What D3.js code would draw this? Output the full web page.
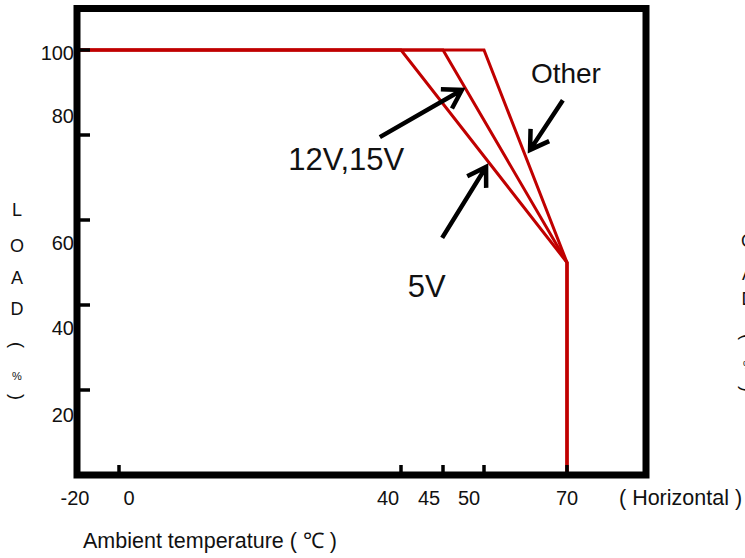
<!DOCTYPE html>
<html>
<head>
<meta charset="utf-8">
<script src="https://cdn.jsdelivr.net/npm/d3@7"></script>
<style>
  html, body { margin: 0; padding: 0; background: #fff; }
  svg text { font-family: "Liberation Sans", Arial, sans-serif; fill: #111; }
</style>
</head>
<body>
<svg id="chart" width="745" height="558"></svg>
<script>

// tick values
var tempTicks = [-20, 0, 40, 45, 50, 70];
var loadTicks = [100, 80, 60, 40, 20];

// derating curves (temperature, load %)
var temp5V   = [-20, 40, 70, 70];
var load5V   = [100, 100, 50, 0];
var temp12V  = [-20, 45, 70, 70];
var load12V  = [100, 100, 50, 0];
var tempOther = [-20, 50, 70, 70];
var loadOther = [100, 100, 50, 0];

// annotations, in data units
var noteText  = ["12V,15V", "5V", "Other"];
var noteAt    = [[24.0, 71.8], [40.8, 41.9], [61.3, 92.2]];
var arrowFrom = [[37.0, 79.5], [44.9, 55.8], [69.0, 88.2]];
var arrowTo   = [[47.3, 90.6], [50.5, 72.5], [61.1, 76.5]];

var yTitle = ["L", "O", "A", "D", "(", "%", ")"];


function setup () {

    var svg = d3.select("#chart");
    var frame = {left: 77, top: 8.5, right: 646, bottom: 475};

    // axis is not to scale in the original, so piecewise
    var x = d3.scaleLinear()
              .domain(tempTicks)
              .range([77, 119, 401, 443, 484, 567]);
    var y = d3.scaleLinear()
              .domain([0, 100])
              .range([frame.bottom, 50]);

    var line = d3.line().x(d => x(d[0])).y(d => y(d[1]));

    var curves = [d3.zip(temp5V, load5V), d3.zip(temp12V, load12V), d3.zip(tempOther, loadOther)];

    svg.append("g")
       .attr("fill", "none")
       .attr("stroke", "#c00000")
       .attr("stroke-width", 3)
       .attr("stroke-linejoin", "miter")
       .selectAll("path")
       .data(curves)
       .join("path")
       .attr("d", line);

    // ticks, pointing inward
    var ticks = svg.append("g").attr("stroke", "#000").attr("stroke-width", 3.5);
    ticks.selectAll("line.x")
         .data(tempTicks.slice(1))
         .join("line")
         .attr("x1", d => x(d)).attr("x2", d => x(d))
         .attr("y1", frame.bottom).attr("y2", frame.bottom - 10);
    ticks.selectAll("line.y")
         .data(loadTicks)
         .join("line")
         .attr("x1", frame.left).attr("x2", frame.left + 13)
         .attr("y1", d => y(d)).attr("y2", d => y(d));

    svg.append("rect")
       .attr("x", frame.left).attr("y", frame.top)
       .attr("width", frame.right - frame.left)
       .attr("height", frame.bottom - frame.top)
       .attr("fill", "none")
       .attr("stroke", "#000")
       .attr("stroke-width", 7);

    // tick labels, nudged like the original
    var xNudge = [-2, 10, -13, -14, -15, 0];
    svg.append("g").selectAll("text")
       .data(tempTicks)
       .join("text")
       .attr("x", (d, i) => x(d) + xNudge[i])
       .attr("y", 505)
       .attr("text-anchor", "middle")
       .attr("font-size", 20)
       .text(d => d);

    var yNudge = [10, -12, 30, 30, 32];
    svg.append("g").selectAll("text")
       .data(loadTicks)
       .join("text")
       .attr("x", 74)
       .attr("y", (d, i) => y(d) + yNudge[i])
       .attr("text-anchor", "end")
       .attr("font-size", 20)
       .text(d => d);

    svg.append("text")
       .attr("x", 619).attr("y", 505)
       .attr("font-size", 21.5)
       .text("( Horizontal )");

    svg.append("text")
       .attr("x", 83).attr("y", 548)
       .attr("font-size", 21.5)
       .text("Ambient temperature ( \u2103 )");

    // vertical title, one glyph per row; brackets turned on their side
    function column (letters, cx, rows) {
        var g = svg.append("g");
        letters.forEach((c, i) => {
            var t = g.append("text")
                     .attr("font-size", c == "%" ? 11 : 18)
                     .text(c);
            if (c == "(" || c == ")") {
                var b = t.node().getBBox();
                t.attr("transform", `translate(${cx},${rows[i]}) rotate(90) translate(${-b.x - b.width / 2},${-b.y - b.height / 2})`);
            } else {
                t.attr("text-anchor", "middle").attr("x", cx).attr("y", rows[i]);
            }
        });
    }
    column(yTitle, 17, [216, 252, 284, 315, 345, 380, 397]);
    column(yTitle.slice(1), 748, [247, 280, 305, 337, 369, 389]);

    // annotations
    var noteSize = [31, 31, 28];
    svg.append("g").selectAll("text")
       .data(noteText)
       .join("text")
       .attr("x", (d, i) => x(noteAt[i][0]))
       .attr("y", (d, i) => y(noteAt[i][1]))
       .attr("font-size", (d, i) => noteSize[i])
       .text(d => d);

    var arrows = svg.append("g")
                    .attr("fill", "none")
                    .attr("stroke", "#000")
                    .attr("stroke-width", 4.5);
    arrowFrom.forEach((f, i) => {
        var x0 = x(f[0]), y0 = y(f[1]);
        var x1 = x(arrowTo[i][0]), y1 = y(arrowTo[i][1]);
        var a = Math.atan2(y0 - y1, x0 - x1);
        var len = 21, spread = 32 * Math.PI / 180;
        var p = d3.path();
        p.moveTo(x0, y0); p.lineTo(x1, y1);
        p.moveTo(x1 + len * Math.cos(a + spread), y1 + len * Math.sin(a + spread));
        p.lineTo(x1, y1);
        p.lineTo(x1 + len * Math.cos(a - spread), y1 + len * Math.sin(a - spread));
        arrows.append("path").attr("d", p.toString());
    });
}

window.addEventListener('load', setup)
</script>
</body>
</html>
